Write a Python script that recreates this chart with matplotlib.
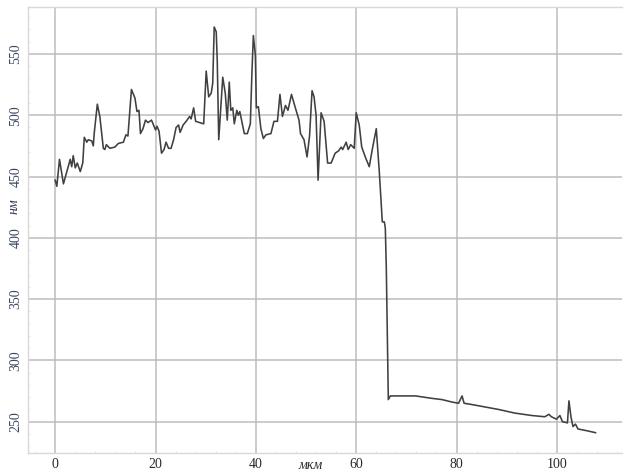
#!/usr/bin/env python3

import matplotlib
matplotlib.use("Agg")
import matplotlib.pyplot as plt
from matplotlib.ticker import MultipleLocator


# profile position, um
x_um = [
    0.0, 0.33, 0.86, 1.65, 2.6, 3.0, 3.3, 3.6, 4.0, 4.4, 5.0, 5.5, 5.8, 6.3,
    6.6, 7.3, 7.6, 7.8, 8.4, 8.9, 9.6, 9.9, 10.2, 10.9, 11.9, 12.6, 13.6,
    14.1, 14.5, 15.2, 15.9, 16.3, 16.7, 17.0, 17.5, 18.0, 18.5, 19.2, 19.6,
    20.0, 20.3, 20.7, 21.2, 21.7, 22.1, 22.6, 23.1, 23.6, 24.1, 24.6, 24.9,
    25.5, 26.1, 26.8, 27.1, 27.6, 28.0, 28.8, 29.6, 30.1, 30.6, 31.1, 31.4,
    31.7, 32.1, 32.3, 32.6, 33.1, 33.4, 33.9, 34.3, 34.7, 35.0, 35.4, 35.7,
    36.2, 36.5, 36.8, 37.2, 37.7, 38.3, 38.9, 39.2, 39.5, 39.9, 40.1, 40.5,
    41.0, 41.5, 42.0, 43.0, 43.6, 44.3, 44.8, 45.3, 45.9, 46.4, 47.1, 47.8,
    48.6, 48.9, 49.6, 50.2, 50.7, 51.2, 51.6, 52.0, 52.4, 53.0, 53.6, 54.3,
    55.0, 55.8, 56.5, 57.0, 57.3, 58.0, 58.4, 58.9, 59.6, 60.0, 60.6, 61.1,
    61.9, 62.6, 63.2, 64.0, 64.6, 64.9, 65.2, 65.6, 65.8, 66.0, 66.2, 66.4,
    66.8, 67.8, 69.8, 71.8, 75.1, 77.1, 79.1, 80.4, 81.1, 81.5, 83.0, 85.7,
    88.3, 91.6, 95.0, 97.6, 98.4, 98.9, 99.9, 100.6, 101.1, 102.1, 102.4,
    102.8, 103.2, 103.7, 104.2, 105.5, 107.7,
]

# surface height, nm
h_nm = [
    447, 442, 464, 444, 458, 464, 458, 467, 457, 461, 454, 461, 482, 478,
    480, 479, 475, 486, 509, 499, 473, 472, 476, 473, 474, 477, 478,
    484, 483, 521, 514, 503, 504, 485, 489, 496, 494, 496, 492,
    488, 491, 487, 469, 472, 478, 473, 473, 480, 490, 492, 486,
    492, 495, 499, 497, 506, 495, 494, 493, 536, 515, 518, 526,
    572, 568, 545, 480, 512, 531, 518, 496, 527, 504, 506, 493,
    504, 500, 503, 495, 485, 485, 493, 533, 565, 549, 506, 507,
    489, 481, 484, 485, 495, 495, 517, 499, 508, 504, 517, 507,
    496, 485, 480, 466, 483, 520, 515, 500, 447, 502, 495, 461,
    461, 469, 471, 474, 472, 478, 472, 476, 473, 502, 492, 474,
    465, 458, 472, 489, 454, 434, 413, 413, 408, 375, 320, 268,
    271, 271, 271, 271, 269, 268, 266, 265, 271, 265, 264, 262,
    260, 257, 255, 254, 256, 254, 252, 255, 250, 249, 267,
    254, 246, 248, 244, 243, 241,
]

x_ticks = [0, 20, 40, 60, 80, 100]
y_ticks = [250, 300, 350, 400, 450, 500, 550]

fig = plt.figure(figsize=(6.24, 4.73), dpi=100)
ax = fig.add_axes([0.045, 0.043, 0.952, 0.943])

ax.plot(x_um, h_nm, color="#404040", linewidth=1.15, solid_joinstyle="round")

ax.set_xlim(-5.4, 113)
ax.set_ylim(224.7, 588.6)
ax.set_xticks(x_ticks)
ax.set_yticks(y_ticks)
ax.xaxis.set_minor_locator(MultipleLocator(4))
ax.yaxis.set_minor_locator(MultipleLocator(10))

ax.grid(True, which="major", color="#bdbdb8", linewidth=1.1)
ax.set_axisbelow(True)

ax.spines["right"].set_visible(False)
for side in ("left", "bottom", "top"):
    ax.spines[side].set_color("#d8d8d8")
    ax.spines[side].set_linewidth(1.0)

ax.tick_params(axis="both", which="major", length=0, pad=4)
ax.tick_params(axis="both", which="minor", direction="in", length=1.5,
               color="#e0e0e0", width=0.6)

for lab in ax.get_xticklabels():
    lab.set_family("Liberation Serif")
    lab.set_fontsize(10)
    lab.set_color("#2a2a2a")
for lab in ax.get_yticklabels():
    lab.set_family("Liberation Serif")
    lab.set_fontsize(10)
    lab.set_color("#3a4560")
    lab.set_rotation(90)
    lab.set_va("center")

fig.text(0.023, 0.565, "нм", rotation=90, ha="center", va="center",
         family="Liberation Serif", style="italic", fontsize=10,
         color="#2f3a55")
fig.text(0.497, 0.016, "мкм", ha="center", va="center",
         family="Liberation Serif", style="italic", fontsize=10,
         color="#2a2a2a")

fig.savefig("out.png", dpi=100)
plt.close(fig)
